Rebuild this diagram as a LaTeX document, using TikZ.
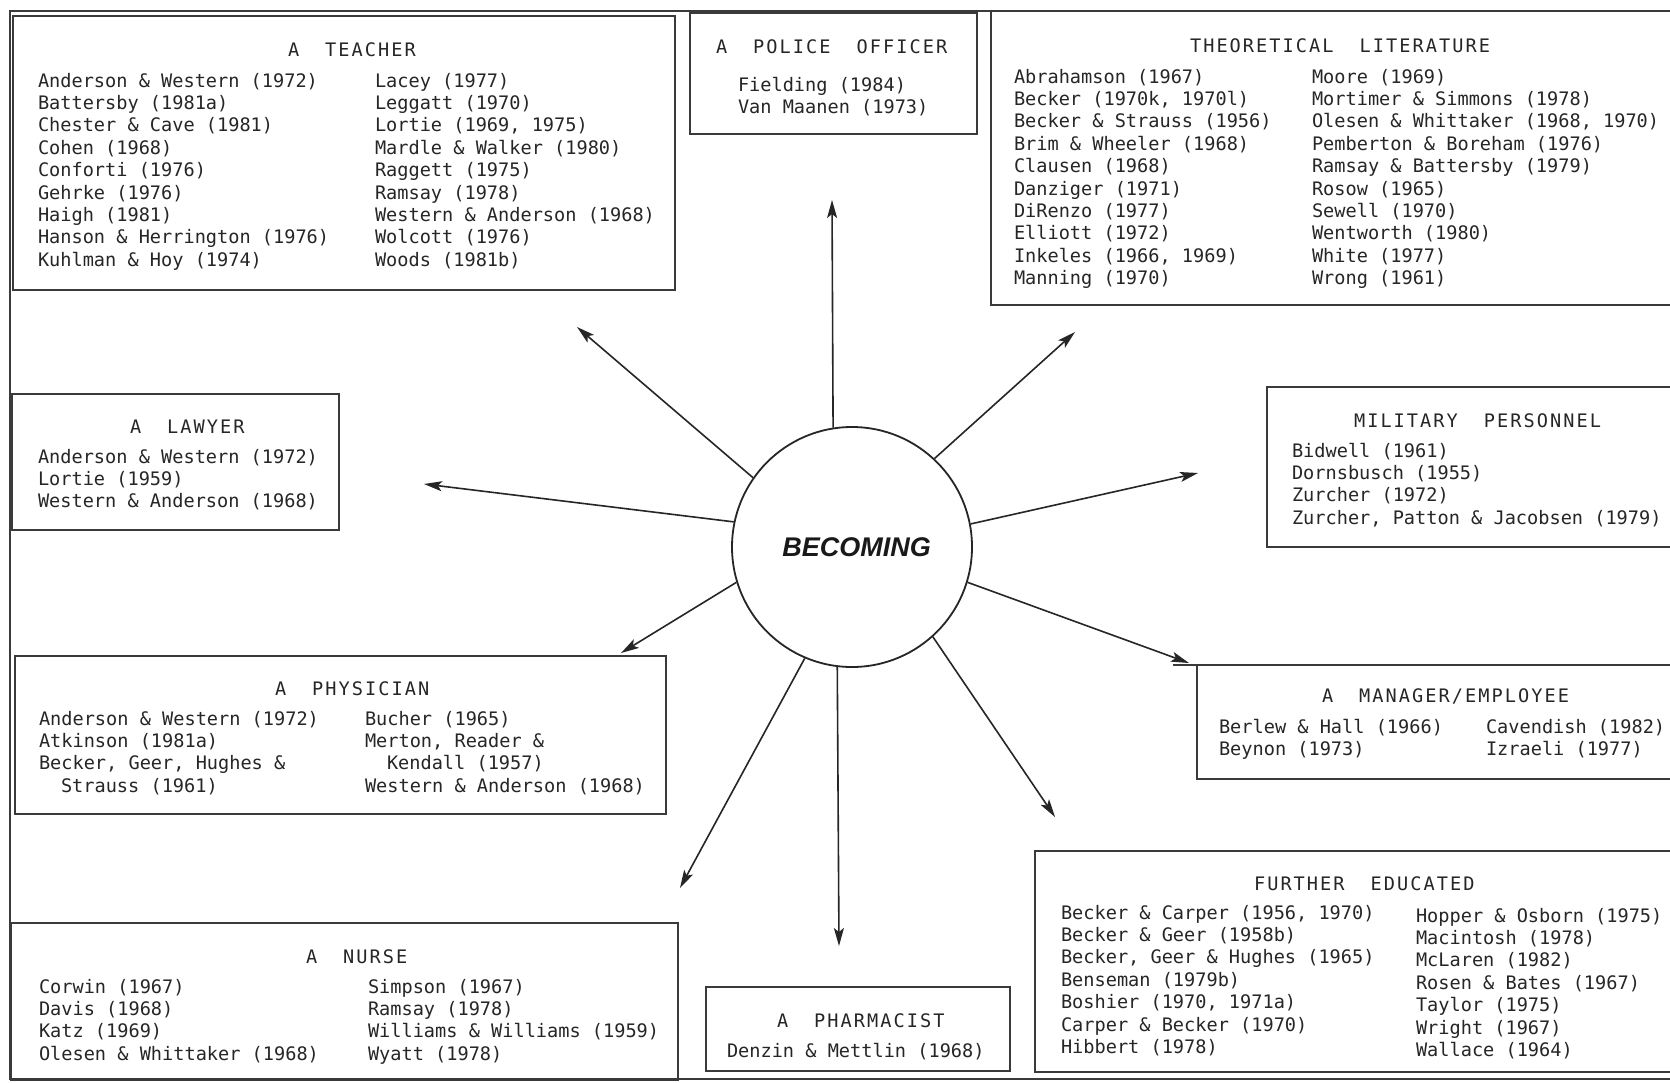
\documentclass[tikz,border=0pt]{standalone}
\usepackage{fontspec}
\usetikzlibrary{arrows.meta}
\newfontfamily\monofont{DejaVu Sans Mono}
\newfontfamily\headfont[LetterSpace=11]{DejaVu Sans Mono}
\newfontfamily\becfont{Liberation Sans}
\definecolor{ink}{HTML}{262626}
\definecolor{boxline}{HTML}{3A3A3A}
\newcommand{\colblock}[1]{\begin{tabular}[t]{@{}l@{}}#1\end{tabular}}
\newcommand{\gap}{\hspace{26pt}}
\newcommand{\ind}{\hspace{22pt}}
\tikzset{
  box/.style={draw=boxline, line width=1.8pt, inner sep=0pt, outer sep=0pt, anchor=north west},
  frameline/.style={draw=boxline, line width=1.6pt},
  col/.style={anchor=base west, inner sep=0pt, outer sep=0pt, text=ink, font=\monofont\fontsize{18.6}{22.4}\selectfont},
  head/.style={anchor=base west, inner sep=0pt, outer sep=0pt, text=ink, font=\headfont\fontsize{18.6}{22.4}\selectfont},
  arr/.style={draw=black!85, line width=1.6pt, -{Stealth[length=18pt,width=10pt,inset=4pt]}},
  hub/.style={circle, draw=black!85, line width=1.8pt, minimum size=240pt, inner sep=0pt,
              font=\becfont\bfseries\itshape\fontsize{27}{30}\selectfont, text=black!90}
}
\begin{document}
\begin{tikzpicture}[x=1pt,y=-1pt]
\useasboundingbox (0,0) rectangle (1670,1082);
\clip (0,0) rectangle (1670,1082);
\fill[white] (0,0) rectangle (1670,1082);
\draw[frameline] (10,11) rectangle (1700,1079);

% boxes
\node[box, minimum width=662pt, minimum height=274pt] (teacher) at (13,16) {};
\node[box, minimum width=287pt, minimum height=121pt] (police) at (690,13) {};
\node[box, minimum width=700pt, minimum height=294pt] (theory) at (991,11) {};
\node[box, minimum width=327pt, minimum height=136pt] (lawyer) at (12,394) {};
\node[box, minimum width=420pt, minimum height=160pt] (military) at (1267,387) {};
\node[box, minimum width=651pt, minimum height=158pt] (physician) at (15,656) {};
\node[box, minimum width=490pt, minimum height=114pt] (manager) at (1197,665) {};
\node[box, minimum width=650pt, minimum height=221pt] (further) at (1035,851) {};
\node[box, minimum width=667pt, minimum height=157pt] (nurse) at (11,923) {};
\node[box, minimum width=304pt, minimum height=84pt] (pharm) at (706,987) {};
\draw[boxline, line width=1.8pt] (1173,665) -- (manager.north west);

% A TEACHER
\node[head] (teacherH) at (288,56) {A\gap TEACHER};
\node[col] (teacherA) at (38,87) {\colblock{Anderson \& Western (1972)\\Battersby (1981a)\\Chester \& Cave (1981)\\Cohen (1968)\\Conforti (1976)\\Gehrke (1976)\\Haigh (1981)\\Hanson \& Herrington (1976)\\Kuhlman \& Hoy (1974)}};
\node[col] (teacherB) at (375,87) {\colblock{Lacey (1977)\\Leggatt (1970)\\Lortie (1969, 1975)\\Mardle \& Walker (1980)\\Raggett (1975)\\Ramsay (1978)\\Western \& Anderson (1968)\\Wolcott (1976)\\Woods (1981b)}};

% A POLICE OFFICER
\node[head] (policeH) at (716,53) {A\gap POLICE\gap OFFICER};
\node[col] (policeA) at (738,91) {\colblock{Fielding (1984)\\Van Maanen (1973)}};

% THEORETICAL LITERATURE
\node[head] (theoryH) at (1190,52) {THEORETICAL\gap LITERATURE};
\node[col] (theoryA) at (1014,83) {\colblock{Abrahamson (1967)\\Becker (1970k, 1970l)\\Becker \& Strauss (1956)\\Brim \& Wheeler (1968)\\Clausen (1968)\\Danziger (1971)\\DiRenzo (1977)\\Elliott (1972)\\Inkeles (1966, 1969)\\Manning (1970)}};
\node[col] (theoryB) at (1312,83) {\colblock{Moore (1969)\\Mortimer \& Simmons (1978)\\Olesen \& Whittaker (1968, 1970)\\Pemberton \& Boreham (1976)\\Ramsay \& Battersby (1979)\\Rosow (1965)\\Sewell (1970)\\Wentworth (1980)\\White (1977)\\Wrong (1961)}};

% A LAWYER
\node[head] (lawyerH) at (130,433) {A\gap LAWYER};
\node[col] (lawyerA) at (38,463) {\colblock{Anderson \& Western (1972)\\Lortie (1959)\\Western \& Anderson (1968)}};

% MILITARY PERSONNEL
\node[head] (militaryH) at (1354,427) {MILITARY\gap PERSONNEL};
\node[col] (militaryA) at (1292,457) {\colblock{Bidwell (1961)\\Dornsbusch (1955)\\Zurcher (1972)\\Zurcher, Patton \& Jacobsen (1979)}};

% A PHYSICIAN
\node[head] (physicianH) at (275,695) {A\gap PHYSICIAN};
\node[col] (physicianA) at (39,725) {\colblock{Anderson \& Western (1972)\\Atkinson (1981a)\\Becker, Geer, Hughes \&\\\ind Strauss (1961)}};
\node[col] (physicianB) at (365,725) {\colblock{Bucher (1965)\\Merton, Reader \&\\\ind Kendall (1957)\\Western \& Anderson (1968)}};

% A MANAGER/EMPLOYEE
\node[head] (managerH) at (1322,702) {A\gap MANAGER/EMPLOYEE};
\node[col] (managerA) at (1219,733) {\colblock{Berlew \& Hall (1966)\\Beynon (1973)}};
\node[col] (managerB) at (1486,733) {\colblock{Cavendish (1982)\\Izraeli (1977)}};

% FURTHER EDUCATED
\node[head] (furtherH) at (1254,890) {FURTHER\gap EDUCATED};
\node[col] (furtherA) at (1061,919) {\colblock{Becker \& Carper (1956, 1970)\\Becker \& Geer (1958b)\\Becker, Geer \& Hughes (1965)\\Benseman (1979b)\\Boshier (1970, 1971a)\\Carper \& Becker (1970)\\Hibbert (1978)}};
\node[col] (furtherB) at (1416,922) {\colblock{Hopper \& Osborn (1975)\\Macintosh (1978)\\McLaren (1982)\\Rosen \& Bates (1967)\\Taylor (1975)\\Wright (1967)\\Wallace (1964)}};

% A NURSE
\node[head] (nurseH) at (306,963) {A\gap NURSE};
\node[col] (nurseA) at (39,993) {\colblock{Corwin (1967)\\Davis (1968)\\Katz (1969)\\Olesen \& Whittaker (1968)}};
\node[col] (nurseB) at (368,993) {\colblock{Simpson (1967)\\Ramsay (1978)\\Williams \& Williams (1959)\\Wyatt (1978)}};

% A PHARMACIST
\node[head] (pharmH) at (777,1027) {A\gap PHARMACIST};
\node[col] (pharmA) at (727,1057) {\colblock{Denzin \& Mettlin (1968)}};

% hub
\node[hub] (becoming) at (852,547) {\hspace*{9pt}BECOMING};

% arrow tips
\coordinate (tUp) at (832,200);
\coordinate (tUL) at (577,327);
\coordinate (tL) at (424,484);
\coordinate (tUR) at (1075,332);
\coordinate (tR) at (1198,473);
\coordinate (tLL) at (621,653);
\coordinate (tLR) at (1189,663);
\coordinate (tDL) at (680,888);
\coordinate (tD) at (839,946);
\coordinate (tDR) at (1055,817);

\draw[arr] (becoming.99.5) -- (tUp);
\draw[arr] (becoming.145.3) -- (tUL);
\draw[arr] (becoming.168.1) -- (tL);
\draw[arr] (becoming.47.7) -- (tUR);
\draw[arr] (becoming.11.9) -- (tR);
\draw[arr] (becoming.197.2) -- (tLL);
\draw[arr] (becoming.343.2) -- (tLR);
\draw[arr] (becoming.247.7) -- (tDL);
\draw[arr] (becoming.263.8) -- (tD);
\draw[arr] (becoming.312) -- (tDR);
\end{tikzpicture}
\end{document}
